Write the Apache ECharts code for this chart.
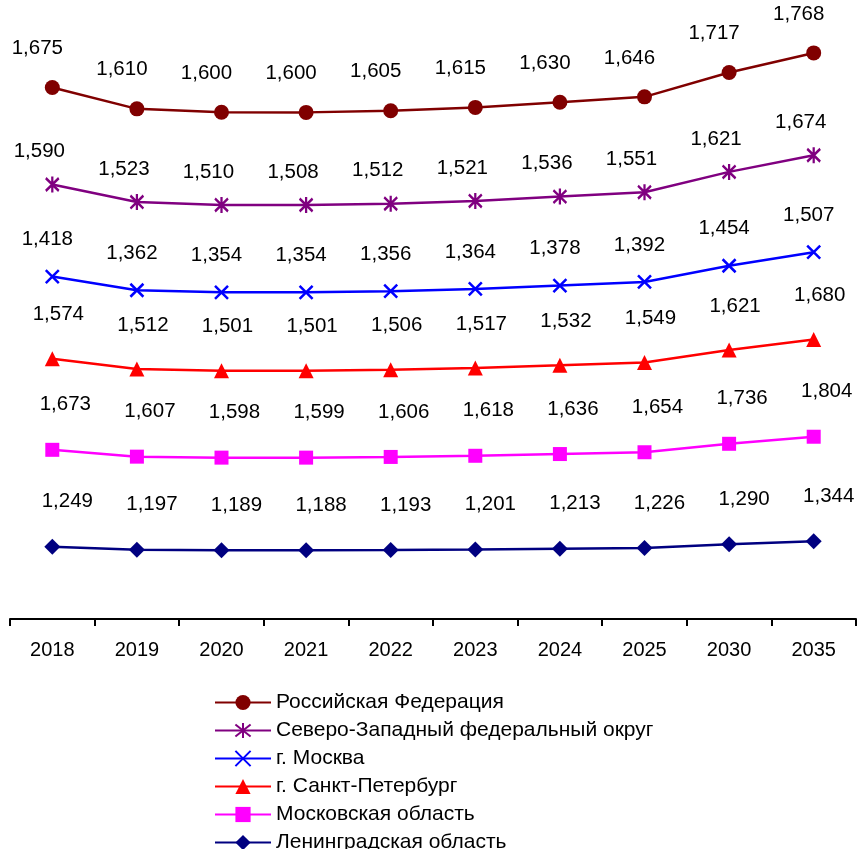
<!DOCTYPE html>
<html>
<head>
<meta charset="utf-8">
<script src="https://cdn.jsdelivr.net/npm/echarts@6/dist/echarts.min.js"></script>
<style>
  html, body { margin: 0; padding: 0; background: #fff; }
  #chart { width: 859px; height: 849px; }
</style>
</head>
<body>
<div id="chart"></div>
<script>
// годы прогноза
var years = ['2018', '2019', '2020', '2021', '2022', '2023', '2024', '2025', '2030', '2035'];

// значения по регионам
var russia    = [1.675, 1.610, 1.600, 1.600, 1.605, 1.615, 1.630, 1.646, 1.717, 1.768];
var nwDistr   = [1.590, 1.523, 1.510, 1.508, 1.512, 1.521, 1.536, 1.551, 1.621, 1.674];
var moscow    = [1.418, 1.362, 1.354, 1.354, 1.356, 1.364, 1.378, 1.392, 1.454, 1.507];
var spb       = [1.574, 1.512, 1.501, 1.501, 1.506, 1.517, 1.532, 1.549, 1.621, 1.680];
var moscowReg = [1.673, 1.607, 1.598, 1.599, 1.606, 1.618, 1.636, 1.654, 1.736, 1.804];
var leningrad = [1.249, 1.197, 1.189, 1.188, 1.193, 1.201, 1.213, 1.226, 1.290, 1.344];

var names = [
    'Российская Федерация',
    'Северо-Западный федеральный округ',
    'г. Москва',
    'г. Санкт-Петербург',
    'Московская область',
    'Ленинградская область'
];

var FONT = '"Liberation Sans", Arial, sans-serif';

function fmt(p) {
    return p.value.toFixed(3).replace('.', ',');
}

// одна линия в общем стеке
function makeSeries(name, data, color, symbol, size, offset, stroke) {
    return {
        name: name,
        type: 'line',
        stack: 'all',
        data: data,
        color: color,
        symbol: symbol,
        symbolSize: size,
        lineStyle: { color: color, width: 2.5 },
        itemStyle: stroke
            ? { color: color, borderColor: color, borderWidth: 2.5 }
            : { color: color, borderWidth: 0 },
        label: {
            show: true,
            position: 'inside',
            offset: offset,
            formatter: fmt,
            color: '#000',
            fontFamily: FONT,
            fontSize: 20.5
        },
        emphasis: { disabled: true }
    };
}

var asterisk = 'path://M0,-10L0,10M-8,-8L8,8M-8,8L8,-8';
var cross = 'path://M-8,-8L8,8M-8,8L8,-8';

var myChart = echarts.init(document.getElementById('chart'));
myChart.setOption({
    animation: false,
    backgroundColor: '#fff',
    grid: { left: 10, right: 3, top: 40, bottom: 230 },
    xAxis: {
        type: 'category',
        data: years,
        boundaryGap: true,
        axisLine: { lineStyle: { color: '#000', width: 2 } },
        axisTick: { show: true, length: 7, lineStyle: { color: '#000', width: 2 } },
        axisLabel: { color: '#000', fontFamily: FONT, fontSize: 20, margin: 21 }
    },
    yAxis: {
        type: 'value',
        min: 0,
        max: 10,
        show: false
    },
    legend: {
        orient: 'vertical',
        left: 214,
        top: 692,
        height: 220,
        padding: 0,
        itemWidth: 56,
        itemHeight: 19,
        itemGap: 7.0,
        data: names,
        textStyle: { color: '#000', fontFamily: FONT, fontSize: 21, lineHeight: 20 }
    },
    series: [
        makeSeries(names[5], leningrad, '#000080', 'diamond', 16, [15, -45]),
        makeSeries(names[4], moscowReg, '#FF00FF', 'rect', 14, [13, -45]),
        makeSeries(names[3], spb, '#FF0000', 'triangle', 15, [6, -44]),
        makeSeries(names[2], moscow, '#0000FF', cross, 13, [-5, -37], true),
        makeSeries(names[1], nwDistr, '#800080', asterisk, [13, 16], [-13, -33], true),
        makeSeries(names[0], russia, '#800000', 'circle', 15, [-15, -39])
    ]
});
</script>
</body>
</html>
